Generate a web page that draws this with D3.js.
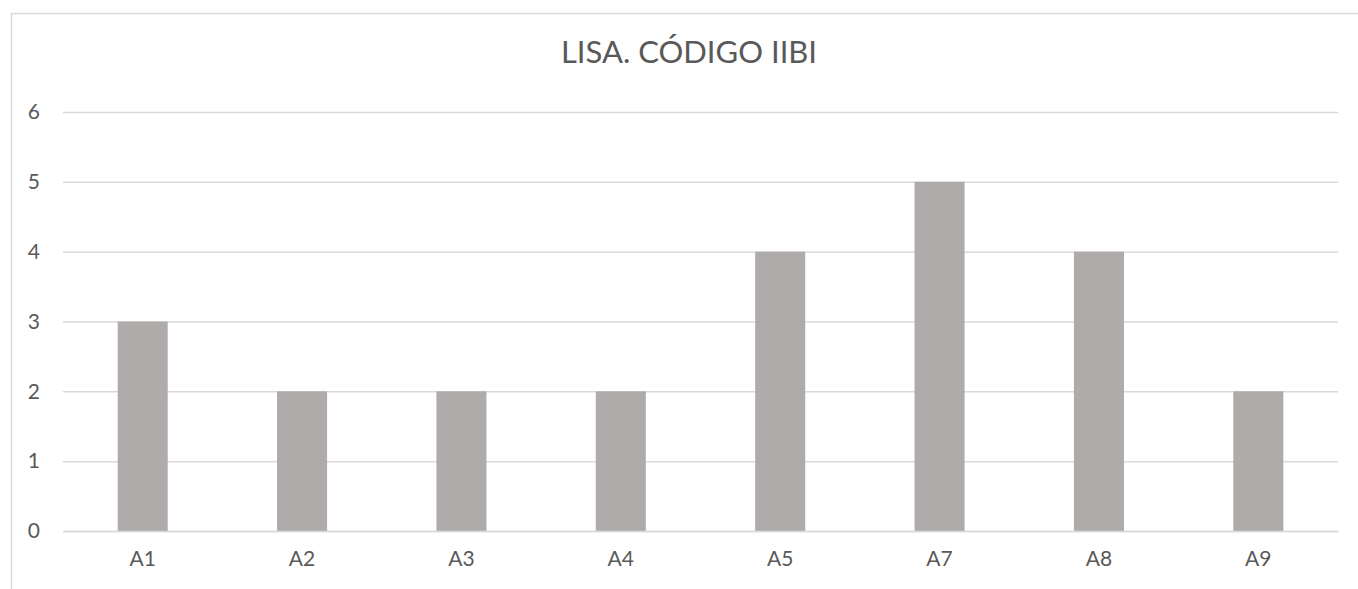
<!DOCTYPE html>
<html><head><meta charset="utf-8">
<script src="https://cdn.jsdelivr.net/npm/d3@7"></script>
<style>body{margin:0;background:#fff}svg{display:block}</style>
</head><body>
<svg id="c" width="1358" height="589"></svg>
<script>
const title = "LISA. CÓDIGO IIBI";
const categories = ["A1","A2","A3","A4","A5","A7","A8","A9"];
const values = [3,2,2,2,4,5,4,2];
const yTicks = [0,1,2,3,4,5,6];

const svg = d3.select("#c");
const font = "Lato, 'Open Sans', sans-serif";
const textColor = "#595959";
const m = {left:63, right:1338, top:112, bottom:531};

// chart border
svg.append("path").attr("d","M11.5,589 L11.5,13.5 L1358,13.5")
  .attr("fill","none").attr("stroke","#D9D9D9").attr("stroke-width",1.5);

const x = d3.scaleBand().domain(categories).range([m.left,m.right]).paddingInner(0.686).paddingOuter(0.343);
const y = d3.scaleLinear().domain([0,6]).range([m.bottom,m.top]);

const yAxis = d3.axisLeft(y).tickValues(yTicks).tickFormat(d3.format("d")).tickSize(-(m.right-m.left)).tickPadding(23);
const gy = svg.append("g").attr("transform",`translate(${m.left},0)`).call(yAxis);
gy.select(".domain").remove();
gy.selectAll(".tick line").attr("stroke","#D9D9D9").attr("stroke-width",1.5);
gy.selectAll(".tick text").attr("fill",textColor).style("font-family",font).style("font-size","21px");

svg.append("g").selectAll("rect").data(values).join("rect")
  .attr("x",(d,i)=>x(categories[i])).attr("width",x.bandwidth())
  .attr("y",d=>y(d)).attr("height",d=>y(0)-y(d))
  .attr("fill","#AEABAA");

const xAxis = d3.axisBottom(x).tickSize(0).tickPadding(20);
const gx = svg.append("g").attr("transform",`translate(0,${m.bottom})`).call(xAxis);
gx.select(".domain").attr("stroke","#D9D9D9").attr("stroke-width",1.5);
gx.selectAll(".tick text").attr("fill",textColor).style("font-family",font).style("font-size","21px");

svg.append("text").attr("x",689).attr("y",63).attr("text-anchor","middle")
  .attr("fill",textColor).style("font-family",font).style("font-size","31px").text(title);
</script>
</body></html>
